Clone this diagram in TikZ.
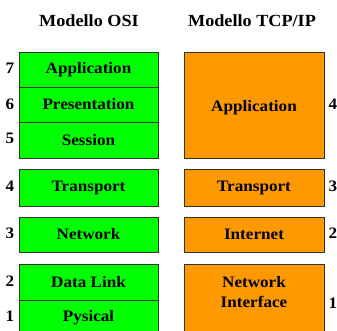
\documentclass[tikz,border=0pt]{standalone}
\usepackage{fontspec}
\setmainfont{Liberation Serif}[FakeStretch=1.07]
\definecolor{osigreen}{HTML}{00FF00}
\definecolor{tcporange}{HTML}{FF9900}
\definecolor{edge}{HTML}{333333}
\begin{document}
\begin{tikzpicture}[x=1pt,y=-1pt,
  layer/.style={draw=edge,line width=0.8pt,inner sep=0pt,outer sep=0pt,anchor=north west,
    font=\fontsize{16}{18}\selectfont\bfseries,align=center},
  osi/.style={layer,fill=osigreen},
  tcp/.style={layer,fill=tcporange},
  lbl/.style={font=\fontsize{16}{20}\selectfont\bfseries,align=center,inner sep=0pt},
  num/.style={font=\fontsize{16}{18}\selectfont\bfseries,inner sep=0pt},
  ttl/.style={font=\fontsize{17}{19}\selectfont\bfseries,inner sep=0pt}]
\useasboundingbox (0,0) rectangle (337,331);
\fill[white] (0,0) rectangle (337,331);
% titles
\node[ttl] (t1) at (89,21) {Modello OSI};
\node[ttl] (t2) at (252,21) {Modello TCP/IP};
% OSI
\node[osi,minimum width=139pt,minimum height=35pt] (app) at (19,52) {Application};
\node[osi,minimum width=139pt,minimum height=35pt] (pre) at (19,87) {Presentation};
\node[osi,minimum width=139pt,minimum height=36pt] (ses) at (19,122) {Session};
\node[osi,minimum width=139pt,minimum height=37pt] (tra) at (19,169) {Transport};
\node[osi,minimum width=139pt,minimum height=35pt] (net) at (19,217) {Network};
\node[osi,minimum width=139pt,minimum height=36pt] (dl) at (19,264) {Data Link};
\node[osi,minimum width=139pt,minimum height=36pt] (phy) at (19,300) {Pysical};
% TCP/IP
\node[tcp,minimum width=140pt,minimum height=106pt] (tapp) at (184,52) {};
\node[lbl] (tappl) at (254,108) {Application};
\node[tcp,minimum width=140pt,minimum height=37pt] (ttra) at (184,169) {Transport};
\node[tcp,minimum width=140pt,minimum height=35pt] (tint) at (184,217) {Internet};
\node[tcp,minimum width=140pt,minimum height=76pt] (tni) at (184,264) {};
\node[lbl] (tnil) at (254,292) {Network\\Interface};
% numbers left
\node[num] (n7) at (10,68) {7};
\node[num] (n6) at (10,104) {6};
\node[num] (n5) at (10,138) {5};
\node[num] (n4) at (10,186) {4};
\node[num] (n3) at (10,233) {3};
\node[num] (n2) at (10,281) {2};
\node[num] (n1) at (10,316) {1};
% numbers right
\node[num] (m4) at (333,104) {4};
\node[num] (m3) at (333,186) {3};
\node[num] (m2) at (333,233) {2};
\node[num] (m1) at (333,303) {1};
\end{tikzpicture}
\end{document}
